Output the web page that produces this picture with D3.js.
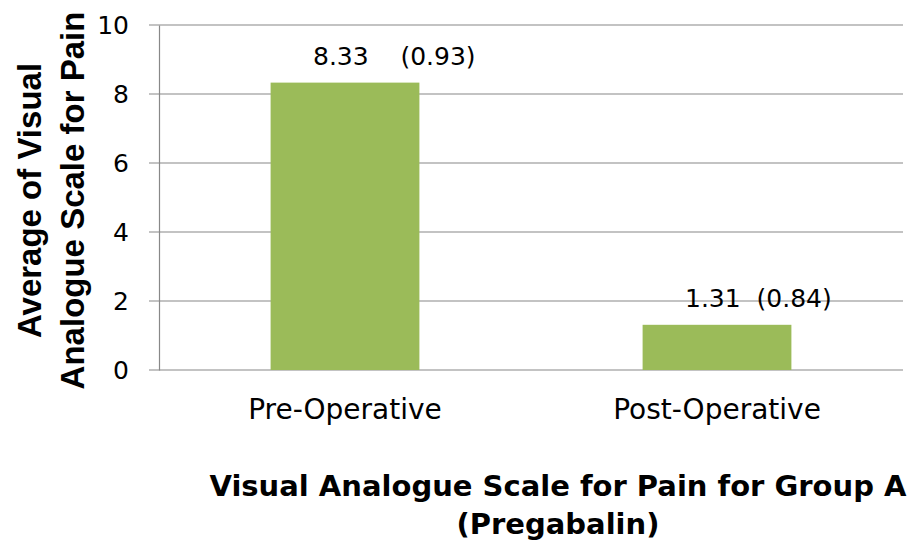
<!DOCTYPE html>
<html>
<head>
<meta charset="utf-8">
<script src="https://cdn.jsdelivr.net/npm/d3@7"></script>
<style>
  body { margin: 0; background: #fff; }
  text { font-family: "DejaVu Sans", sans-serif; fill: #000; }
</style>
</head>
<body>
<div id="chart"></div>
<script>
// chart data
var categories = ["Pre-Operative", "Post-Operative"];
var means = [8.33, 1.31];
var sds = ["(0.93)", "(0.84)"];
var gaps = ["    ", "  "];
var yTicks = [0, 2, 4, 6, 8, 10];

var W = 919, H = 551;
var margin = {top: 25, right: 16, bottom: 181, left: 159};
var width = W - margin.left - margin.right,
    height = H - margin.top - margin.bottom;

var svg = d3.select("#chart")
    .append("svg")
    .attr("width", W)
    .attr("height", H)
    .append("g")
    .attr("transform", "translate(" + margin.left + "," + margin.top + ")");

var x = d3.scaleBand()
    .domain(categories)
    .range([0, width])
    .paddingInner(0.6)
    .paddingOuter(0.3);

var y = d3.scaleLinear()
    .domain([0, 10])
    .range([height, 0]);

// gridlines
svg.selectAll(".grid")
    .data(yTicks)
    .enter()
    .append("line")
    .attr("x1", -10)
    .attr("x2", width)
    .attr("y1", function(d) { return y(d); })
    .attr("y2", function(d) { return y(d); })
    .style("stroke", "#888")
    .style("stroke-width", 1.2);

// y axis
var yAxis = svg.append("g")
    .call(d3.axisLeft(y).tickValues(yTicks).tickSize(0).tickPadding(30));
yAxis.select(".domain").style("stroke", "#888").style("stroke-width", 1.2);
yAxis.selectAll("text")
    .style("font-size", "25px")
    .style("font-family", "'DejaVu Sans', sans-serif")
    .attr("fill", "#000");

// bars
svg.selectAll(".bar")
    .data(means)
    .enter()
    .append("rect")
    .attr("x", function(d, i) { return x(categories[i]); })
    .attr("y", function(d) { return y(d); })
    .attr("width", x.bandwidth())
    .attr("height", function(d) { return height - y(d); })
    .style("fill", "#9BBB59");

// value labels
svg.selectAll(".lbl")
    .data(means)
    .enter()
    .append("text")
    .attr("x", function(d, i) { return x(categories[i]) + x.bandwidth() / 2 - 32; })
    .attr("y", function(d) { return y(d) - 18; })
    .style("font-size", "25px")
    .style("white-space", "pre")
    .text(function(d, i) { return d.toFixed(2) + gaps[i] + sds[i]; });

// x axis category labels
svg.selectAll(".cat")
    .data(categories)
    .enter()
    .append("text")
    .attr("x", function(d) { return x(d) + x.bandwidth() / 2; })
    .attr("y", height + 49)
    .style("text-anchor", "middle")
    .style("font-size", "28px")
    .text(function(d) { return d; });

// x axis title
var xt = svg.append("text")
    .attr("x", width / 2 + 27)
    .attr("y", height + 126)
    .style("text-anchor", "middle")
    .style("font-size", "29px")
    .style("font-weight", "bold");
xt.append("tspan").attr("x", width / 2 + 27).text("Visual Analogue Scale for Pain for Group A");
xt.append("tspan").attr("x", width / 2 + 27).attr("dy", 38).text("(Pregabalin)");

// y axis title
var yt = svg.append("text")
    .attr("transform", "translate(" + (-margin.left + 41) + "," + (height / 2 + 3) + ") rotate(-90)")
    .style("text-anchor", "middle")
    .style("font-family", "'Liberation Sans', Arial, sans-serif")
    .style("font-size", "33px")
    .style("font-weight", "bold");
yt.append("tspan").attr("x", 0).text("Average of Visual");
yt.append("tspan").attr("x", 0).attr("dy", 43).text("Analogue Scale for Pain");
</script>
</body>
</html>
